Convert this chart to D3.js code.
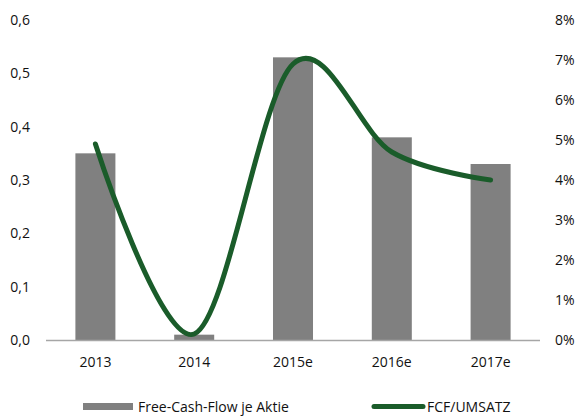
<!DOCTYPE html>
<html><head><meta charset="utf-8">
<script src="https://cdn.jsdelivr.net/npm/d3@7"></script>
<style>body{margin:0;background:#fff}svg{display:block}text{font-family:"Open Sans",sans-serif;fill:#111}</style>
</head><body>
<svg id="c" width="577" height="416"></svg>
<script>
const categories = ["2013","2014","2015e","2016e","2017e"];
const fcfPerShare = [0.35,0.01,0.53,0.38,0.33];
const fcfMargin = [4.9,0.15,6.9,4.7,4.0];
const leftTicks = [0,0.1,0.2,0.3,0.4,0.5,0.6];
const rightTicks = [0,1,2,3,4,5,6,7,8];

const svg = d3.select("#c");
const m = {l:46, r:540, t:20, b:340};
const x = d3.scaleBand().domain(categories).range([m.l,m.r]).paddingInner(0.595).paddingOuter(0.2975);
const yL = d3.scaleLinear().domain([0,0.6]).range([m.b,m.t]);
const yR = d3.scaleLinear().domain([0,8]).range([m.b,m.t]);

svg.selectAll("rect.bar").data(categories).join("rect").attr("class","bar")
  .attr("x",d=>x(d)).attr("width",x.bandwidth())
  .attr("y",(d,i)=>yL(fcfPerShare[i])).attr("height",(d,i)=>m.b-yL(fcfPerShare[i]))
  .attr("fill","#808080");

svg.append("line").attr("x1",m.l).attr("x2",m.r).attr("y1",m.b+0.5).attr("y2",m.b+0.5)
  .attr("stroke","#a6a6a6").attr("stroke-width",1.5);

const line = d3.line().x((d,i)=>x(categories[i])+x.bandwidth()/2).y(d=>yR(d)).curve(d3.curveCatmullRom.alpha(0));
svg.append("path").datum(fcfMargin).attr("d",line).attr("fill","none")
  .attr("stroke","#1a5c2a").attr("stroke-width",5).attr("stroke-linecap","round");

const fmtL = d=>d3.format(".1f")(d).replace(".",",");
svg.selectAll("text.yl").data(leftTicks).join("text").attr("class","yl")
  .attr("x",30).attr("y",d=>yL(d)).attr("dy","0.35em").attr("text-anchor","end")
  .style("font-size","14px").text(fmtL);
svg.selectAll("text.yr").data(rightTicks).join("text").attr("class","yr")
  .attr("x",555).attr("y",d=>yR(d)).attr("dy","0.35em").attr("text-anchor","start")
  .style("font-size","14px").text(d=>d+"%");
svg.selectAll("text.xl").data(categories).join("text").attr("class","xl")
  .attr("x",d=>x(d)+x.bandwidth()/2).attr("y",362).attr("dy","0.35em").attr("text-anchor","middle")
  .style("font-size","14px").text(d=>d);

// legend
svg.append("rect").attr("x",83).attr("y",403).attr("width",50).attr("height",7).attr("fill","#808080");
svg.append("text").attr("x",138).attr("y",407).attr("dy","0.35em").style("font-size","14px").text("Free-Cash-Flow je Aktie");
svg.append("line").attr("x1",374).attr("x2",423).attr("y1",406.5).attr("y2",406.5)
  .attr("stroke","#1a5c2a").attr("stroke-width",5).attr("stroke-linecap","round");
svg.append("text").attr("x",427).attr("y",407).attr("dy","0.35em").style("font-size","14px").text("FCF/UMSATZ");
</script>
</body></html>
